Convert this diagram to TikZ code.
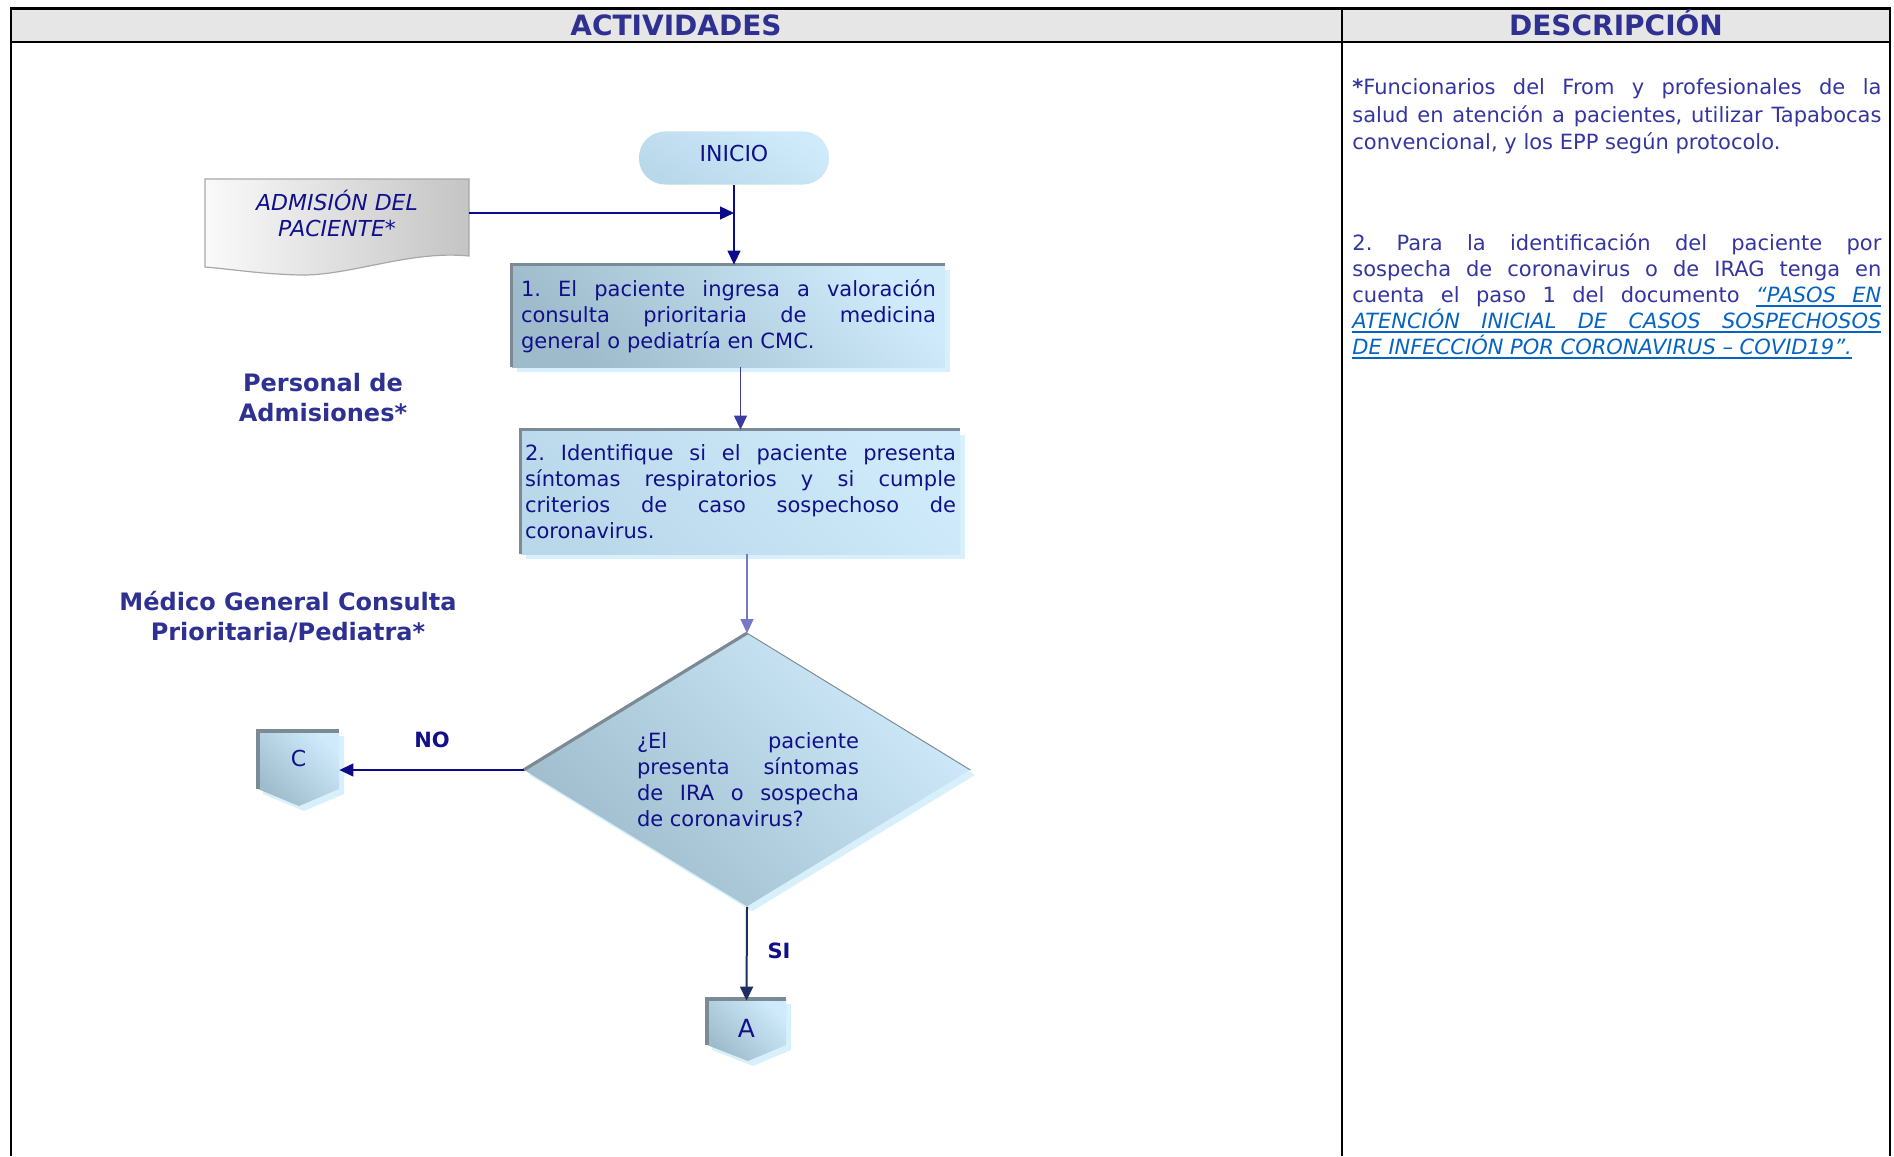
\documentclass[tikz,border=0pt]{standalone}
\usepackage{fontspec}
\setmainfont{DejaVu Sans}
\usetikzlibrary{arrows.meta,shapes.geometric,shadows,calc}
\definecolor{hdrfill}{HTML}{E6E6E6}
\definecolor{hdrtxt}{HTML}{2E3192}
\definecolor{lbltxt}{HTML}{2E3192}
\definecolor{desctxt}{HTML}{3535A0}
\definecolor{linkc}{HTML}{0563C1}
\definecolor{boxtxt}{HTML}{10108A}
\definecolor{blight}{HTML}{CFEBFB}
\definecolor{bmid}{HTML}{B9D8EA}
\definecolor{bdark}{HTML}{9DBBCB}
\definecolor{edgec}{HTML}{7B8A94}
\definecolor{shadowc}{HTML}{D8F0FC}
\definecolor{navyc}{HTML}{0A0A8A}
\definecolor{lavc}{HTML}{7878C4}
\definecolor{dnavy}{HTML}{1C2E60}
\definecolor{docl}{HTML}{FAFAFA}
\definecolor{docr}{HTML}{C4C4C4}
\definecolor{docedge}{HTML}{A8A8A8}
\newcommand\ulw[1]{\setbox0\hbox{#1}\rlap{\vrule height -1.6pt depth 2.2pt width \wd0}\box0}
\newcommand\uls{\leaders\hrule height -1.6pt depth 2.2pt\hskip\fontdimen2\font plus\fontdimen3\font minus\fontdimen4\font}
\frenchspacing
\begin{document}
\begin{tikzpicture}[x=0.5pt,y=-0.5pt,
  hdr/.style={font=\bfseries\fontsize{14}{16}\selectfont, text=hdrtxt, inner sep=0pt, anchor=base},
  lbl/.style={font=\bfseries\fontsize{12}{15}\selectfont, text=lbltxt, align=center, inner sep=0pt},
  bodyfont/.style={font=\fontsize{10.5}{13}\selectfont, text=boxtxt},
  proc/.style={rectangle, inner sep=0pt, bodyfont, align=justify,
    top color=blight, bottom color=#1, shading angle=-45,
    drop shadow={shadow xshift=2.5pt, shadow yshift=-2.5pt, fill=shadowc, opacity=1}},
  connfill/.style={top color=blight, bottom color=bdark, shading angle=-45,
    drop shadow={shadow xshift=2.5pt, shadow yshift=-2.5pt, fill=shadowc, opacity=1}},
  edge3d/.style={draw=edgec, line width=1.6pt},
  flow/.style={draw=navyc, line width=0.6pt, -{Triangle[length=7pt,width=6.5pt]}},
  yn/.style={font=\bfseries\fontsize{10.5}{13}\selectfont, text=boxtxt, inner sep=0pt},
  desc/.style={anchor=north west, inner sep=0pt, text=desctxt}
]
\useasboundingbox (0,0) rectangle (1894,1156);
% table
\fill[hdrfill] (11,8.5) rectangle (1890,42);
\draw[line width=1.1pt] (11,1156) -- (11,8.5) -- (1890,8.5) -- (1890,1156);
\draw[line width=1.1pt] (11,42) -- (1890,42);
\draw[line width=0.9pt] (1342,8.5) -- (1342,1156);
\node[hdr] (h1) at (676,36) {ACTIVIDADES};
\node[hdr] (h2) at (1616,36) {DESCRIPCIÓN};

% lane labels
\node[lbl] (pa) at (323,398) {Personal de\\Admisiones*};
\node[lbl] (mg) at (288,617) {Médico General Consulta\\Prioritaria/Pediatra*};

% start
\node[rectangle, rounded corners=13pt, minimum width=95pt, minimum height=26.5pt, inner sep=0pt,
  top color=blight, bottom color=bmid, shading angle=-30,
  font=\fontsize{11}{13}\selectfont, text=boxtxt] (inicio) at (734,158) {\raisebox{4.5pt}{INICIO}};

% document shape
\shade[left color=docl, right color=docr, draw=docedge, line width=0.6pt]
  (205,179) -- (469,179) -- (469,256) .. controls (410,250) and (350,276) .. (300,275)
  .. controls (260,274) and (230,269) .. (205,267) -- cycle;
\node[inner sep=0pt, minimum width=132pt, minimum height=30pt, align=center,
  font=\itshape\fontsize{11}{13}\selectfont, text=boxtxt] (adm) at (337,213) {ADMISIÓN DEL\\PACIENTE*};
\coordinate (merge) at (inicio.south |- adm.east);

% box 1
\node[proc=bdark, minimum width=216.5pt, minimum height=51pt, text width=207.5pt] (box1) at (728.5,316)
  {1. El paciente ingresa a valoración\linebreak consulta prioritaria de medicina\linebreak general o pediatría en CMC.};
\draw[edge3d] (box1.south west) -- (box1.north west) -- (box1.north east);

% box 2
\node[proc=bmid, minimum width=219.5pt, minimum height=62pt, text width=215.5pt] (box2) at (740.5,492)
  {2. Identifique si el paciente presenta\linebreak síntomas respiratorios y si cumple\linebreak criterios de caso sospechoso de\linebreak coronavirus.};
\draw[edge3d] (box2.south west) -- (box2.north west) -- (box2.north east);

% decision
\node[diamond, aspect=1.63, minimum width=223pt, minimum height=136.5pt, inner sep=0pt,
  top color=blight, bottom color=bdark, shading angle=-45,
  drop shadow={shadow xshift=2.5pt, shadow yshift=-2.5pt, fill=shadowc, opacity=1}] (dia) at (747,770) {};
\node[bodyfont, text width=111pt, align=justify, inner sep=0pt] (diatxt) at (748,780)
  {¿El paciente\linebreak presenta síntomas\linebreak de IRA o sospecha\linebreak de coronavirus?};
\draw[edge3d] (dia.west) -- (dia.north);
\draw[draw=edgec, line width=0.5pt] (dia.north) -- (dia.east);

% off-page connector C
\path[connfill] (258,731) -- (339,731) -- (339,789) -- (299,806) -- (258,789) -- cycle;
\draw[edge3d] (258,789) -- (258,731) -- (339,731);
\node[inner sep=0pt, minimum width=40.5pt, minimum height=29pt, font=\fontsize{11}{13}\selectfont, text=boxtxt] (cC) at (298.5,758) {C};

% off-page connector A
\path[connfill] (707,999) -- (786,999) -- (786,1045) -- (748,1061) -- (707,1045) -- cycle;
\draw[edge3d] (707,1045) -- (707,999) -- (786,999);
\node[inner sep=0pt, minimum width=39.5pt, minimum height=23pt, font=\fontsize{12.5}{14}\selectfont, text=boxtxt] (cA) at (746.5,1028) {A};

% connectors
\draw[flow] (adm.east) -- (merge);
\draw[flow] (inicio.south) -- (inicio.south |- box1.north);
\draw[flow, draw=navyc!80!white] (box1.south -| box2.north) -- (box2.north);
\draw[flow, draw=lavc] (box2.south -| dia.north) -- (dia.north);
\draw[flow] (dia.west) -- (dia.west -| cC.east);
\draw[flow, draw=dnavy, line width=1pt] (dia.south) -- ($(cA.north)+(0,-4)$);
\node[yn] (no) at (432,740) {NO};
\node[yn] (si) at (779,951) {SI};

% description
\node[desc, font=\fontsize{10.5}{13.9}\selectfont] (d1) at (1352,78)
{\vbox{\hbox to 264.5pt{\textbf{*}Funcionarios del From y profesionales de la}
\hbox to 264.5pt{salud en atención a pacientes, utilizar Tapabocas}
\hbox{convencional, y los EPP según protocolo.}}};
\node[desc, font=\fontsize{10.5}{13}\selectfont] (d2) at (1352,233)
{\vbox{\hbox to 264.5pt{2. Para la identificación del paciente por}
\hbox to 264.5pt{sospecha de coronavirus o de IRAG tenga en}
\hbox to 264.5pt{cuenta el paso 1 del documento {\color{linkc}\itshape\ulw{“PASOS}\uls\ulw{EN}}}
\hbox to 264.5pt{\color{linkc}\itshape\ulw{ATENCIÓN}\uls\ulw{INICIAL}\uls\ulw{DE}\uls\ulw{CASOS}\uls\ulw{SOSPECHOSOS}}
\hbox{\color{linkc}\itshape\ulw{DE INFECCIÓN POR CORONAVIRUS – COVID19”.}}}};
\end{tikzpicture}
\end{document}
